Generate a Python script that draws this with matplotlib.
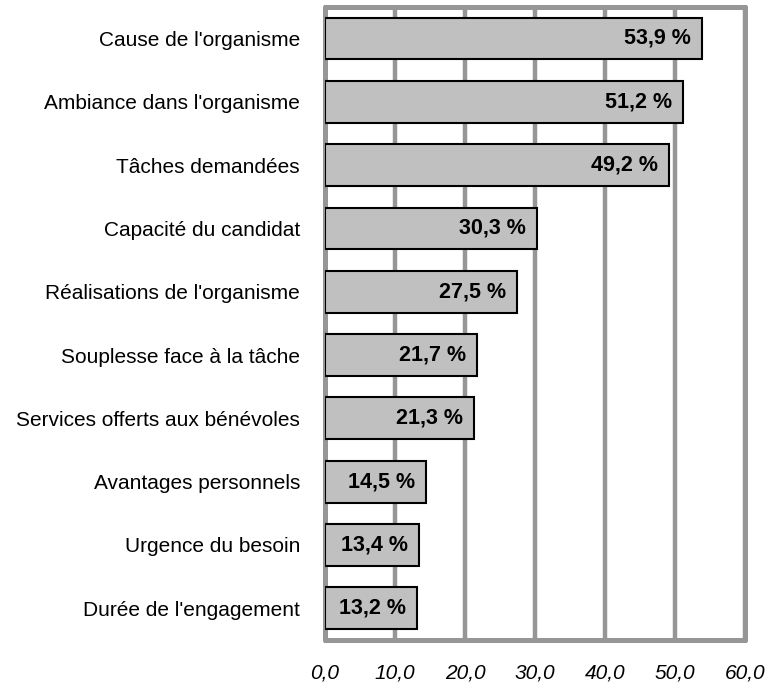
import matplotlib
matplotlib.use("Agg")
import matplotlib.pyplot as plt

categories = [
    "Cause de l'organisme",
    "Ambiance dans l'organisme",
    "Tâches demandées",
    "Capacité du candidat",
    "Réalisations de l'organisme",
    "Souplesse face à la tâche",
    "Services offerts aux bénévoles",
    "Avantages personnels",
    "Urgence du besoin",
    "Durée de l'engagement",
]
values = [53.9, 51.2, 49.2, 30.3, 27.5, 21.7, 21.3, 14.5, 13.4, 13.2]
xticks = [0, 10, 20, 30, 40, 50, 60]

plt.rcParams["font.family"] = ["Liberation Sans", "DejaVu Sans"]
grid_color = "#969696"

fig = plt.figure(figsize=(7.7, 6.83), dpi=100)
ax = fig.add_axes([0.422, 0.063, 0.5455, 0.927])

ypos = list(range(len(categories)))[::-1]
ax.barh(ypos, values, height=0.66, color="#c0c0c0", edgecolor="black",
        linewidth=1.5, zorder=3)

for y, v in zip(ypos, values):
    ax.text(v - 1.6, y, f"{v:.1f} %".replace(".", ","), ha="right", va="center",
            fontsize=15.5, fontweight="bold", zorder=4)

ax.set_xlim(0, 60)
ax.set_ylim(-0.5, len(categories) - 0.5)
ax.set_xticks(xticks)
ax.set_xticklabels([f"{t:.1f}".replace(".", ",") for t in xticks],
                   fontstyle="italic", fontsize=15)
ax.set_yticks(ypos)
ax.set_yticklabels(categories, fontsize=15)
ax.tick_params(axis="both", length=0)
ax.tick_params(axis="y", pad=18)
ax.tick_params(axis="x", pad=17)

ax.grid(axis="x", color=grid_color, linewidth=3.2, zorder=0)
ax.set_axisbelow(True)
for s in ax.spines.values():
    s.set_color(grid_color)
    s.set_linewidth(3.6)
    s.set_capstyle("round")
    s.set_joinstyle("round")

fig.savefig("out.png", dpi=100)
